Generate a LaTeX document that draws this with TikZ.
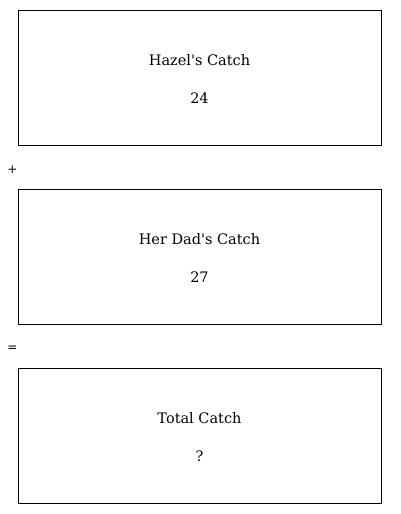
\documentclass[tikz,border=0pt]{standalone}
\usepackage{fontspec}
\newfontfamily\symfont{DejaVu Sans}
\newfontfamily\wordfont{DejaVu Serif}
\begin{document}
\begin{tikzpicture}[x=1pt, y=-1pt,
    catchbox/.style={draw, line width=0.9pt, minimum width=363pt, minimum height=135pt, inner sep=0pt},
    words/.style={font=\wordfont\fontsize{14.5}{17}\selectfont, inner sep=0pt},
    opsign/.style={font=\symfont\fontsize{12}{14}\selectfont, inner sep=0pt}]
\useasboundingbox (0,0) rectangle (400,514);
% the three boxes
\node[catchbox] (hazel) at (199.5,77.5) {};
\node[catchbox] (dad) at (199.5,256.5) {};
\node[catchbox] (total) at (199.5,435.5) {};
\node[words] (hazelname) at (199.5,60) {Hazel\char"27 s Catch};
\node[words] (hazelnum) at (199.5,98) {24};
\node[words] (dadname) at (199.5,239) {Her Dad\char"27 s Catch};
\node[words] (dadnum) at (199.5,277) {27};
\node[words] (totalname) at (199.5,418) {Total Catch};
\node[words] (totalnum) at (199.5,456) {?};
% signs
\node[opsign] (plus) at (12.5,170) {+};
\node[opsign] (equals) at (12.5,349) {=};
\end{tikzpicture}
\end{document}
